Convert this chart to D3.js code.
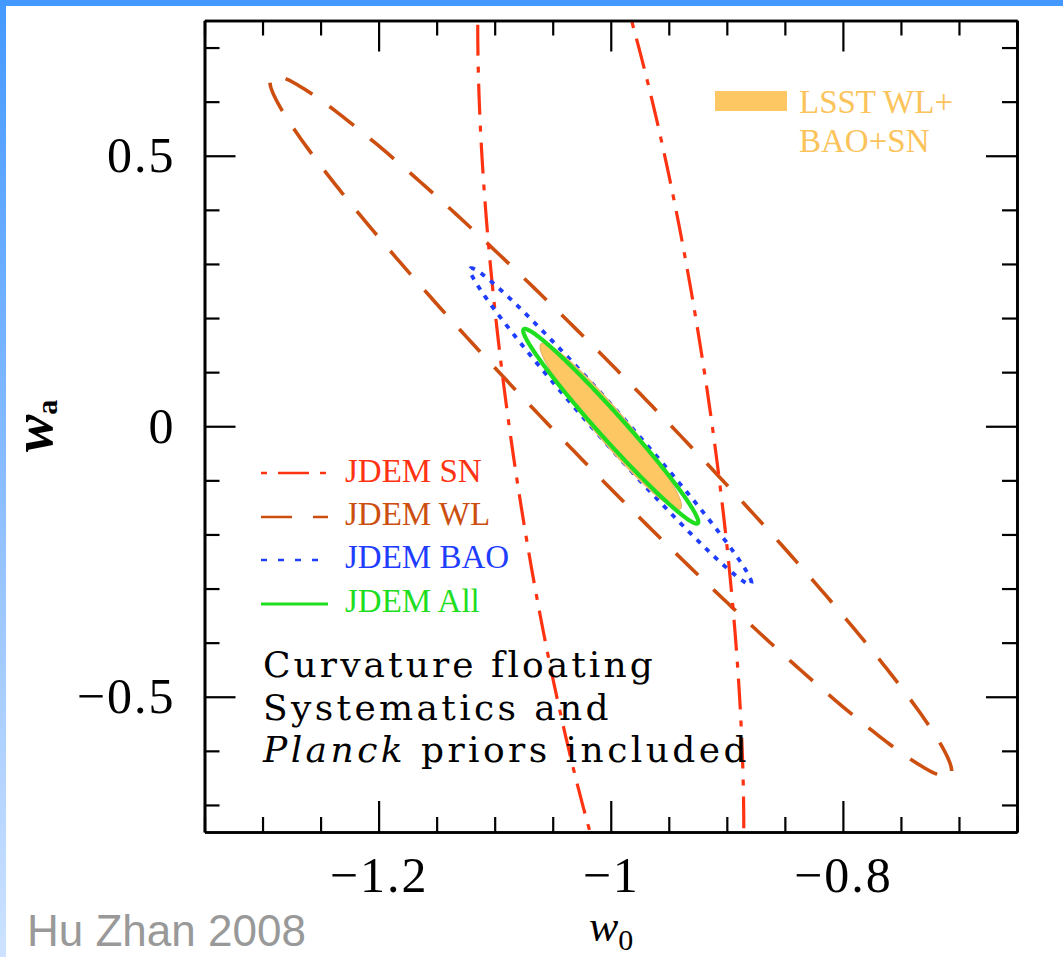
<!DOCTYPE html>
<html>
<head>
<meta charset="utf-8">
<script src="https://cdn.jsdelivr.net/npm/d3@7"></script>
<style>
  html, body { margin: 0; padding: 0; background: #fff; }
  svg { display: block; }
</style>
</head>
<body>
<svg id="chart" width="1063" height="957"></svg>
<script>
// Forecast 1-sigma contours for the dark-energy equation of state (w0, wa).
// Each contour is an error ellipse: centre, half-extent along each axis, correlation.
const contourNames = ["JDEM WL", "JDEM SN", "JDEM BAO", "LSST WL+BAO+SN", "JDEM All"];
const centerW0 = [-1.0, -1.0, -1.0, -1.0, -1.0];
const centerWa = [0.0, 0.0, 0.0, 0.0, 0.0];
const extentW0 = [0.2937, 0.1146, 0.1213, 0.0609, 0.0754];
const extentWa = [0.6476, 1.148, 0.2924, 0.1534, 0.180];
const correlation = [-0.984, -0.646, -0.990, -0.959, -0.981];

// Axis ranges and ticks
const w0Domain = [-1.35, -0.65];
const waDomain = [-0.75, 0.75];
const w0Major = [-1.2, -1.0, -0.8];
const waMajor = [-0.5, 0, 0.5];
const w0Minor = d3.range(-1.35, -0.649, 0.05).map(v => +v.toFixed(2)).filter(v => !w0Major.some(m => Math.abs(m - v) < 1e-9));
const waMinor = d3.range(-0.7, 0.701, 0.1).map(v => +v.toFixed(2)).filter(v => !waMajor.some(m => Math.abs(m - v) < 1e-9));

// Legend entries
const legendLabels = ["JDEM SN", "JDEM WL", "JDEM BAO", "JDEM All"];
const noteLines = ["Curvature floating", "Systematics and", "priors included"];

// ---- styling ----
const style = {
  "JDEM WL":  { stroke: "#cc4f10", width: 3.6, dash: "31,21", fill: "none" },
  "JDEM SN":  { stroke: "#ff3311", width: 3.2, dash: "31,11,6,11", fill: "none" },
  "JDEM BAO": { stroke: "#1f3dff", width: 3.8, dash: "5,7", fill: "none" },
  "LSST WL+BAO+SN": { stroke: "#e6b56a", width: 1.2, dash: null, fill: "#fdc863" },
  "JDEM All": { stroke: "#1fdd1f", width: 4.2, dash: null, fill: "none" }
};

const svg = d3.select("#chart");
const W = 1063, H = 957;
const plot = { left: 204.5, right: 1017, top: 20.5, bottom: 832 };

const x = d3.scaleLinear().domain(w0Domain).range([plot.left, plot.right]);
const y = d3.scaleLinear().domain(waDomain).range([plot.bottom, plot.top]);

// ---- slide frame: blue bar on top, fading bar on the left ----
const defs = svg.append("defs");
const grad = defs.append("linearGradient").attr("id", "sideFade")
  .attr("x1", 0).attr("y1", 0).attr("x2", 0).attr("y2", 1);
grad.append("stop").attr("offset", 0).attr("stop-color", "#4499ff");
grad.append("stop").attr("offset", 0.5).attr("stop-color", "#8abdff");
grad.append("stop").attr("offset", 1).attr("stop-color", "#cde2ff");
svg.append("rect").attr("x", 0).attr("y", 0).attr("width", 6).attr("height", H).attr("fill", "url(#sideFade)");
svg.append("rect").attr("x", 0).attr("y", 0).attr("width", W).attr("height", 6).attr("fill", "#4499ff");

defs.append("clipPath").attr("id", "plotClip").append("rect")
  .attr("x", plot.left).attr("y", plot.top)
  .attr("width", plot.right - plot.left).attr("height", plot.bottom - plot.top);

// ---- contours ----
function ellipse(i) {
  const s = Math.sqrt(1 - correlation[i] * correlation[i]);
  return d3.range(0, 360, 1).map(deg => {
    const t = deg * Math.PI / 180;
    return [centerW0[i] + extentW0[i] * Math.cos(t),
            centerWa[i] + extentWa[i] * (correlation[i] * Math.cos(t) + s * Math.sin(t))];
  });
}
const path = d3.line().x(d => x(d[0])).y(d => y(d[1])).curve(d3.curveLinearClosed);

const contours = svg.append("g").attr("clip-path", "url(#plotClip)");
contourNames.forEach((name, i) => {
  const st = style[name];
  contours.append("path")
    .attr("d", path(ellipse(i)))
    .attr("fill", st.fill)
    .attr("stroke", st.stroke)
    .attr("stroke-width", st.width)
    .attr("stroke-dasharray", st.dash)
    .attr("stroke-linejoin", "round");
});

// ---- axes (ticks point inward on all four sides) ----
const fmt = d3.format("~g");
const serif = "'Liberation Serif', 'Times New Roman', serif";

function styleAxis(g) {
  g.selectAll("path.domain").attr("stroke", "#000").attr("stroke-width", 2.6);
  g.selectAll(".tick line").attr("stroke", "#000").attr("stroke-width", 2.2);
  g.selectAll("text").attr("font-family", serif).attr("font-size", 50).attr("fill", "#000");
}

svg.append("g").attr("transform", `translate(0,${plot.bottom})`)
  .call(d3.axisBottom(x).tickValues(w0Major).tickFormat(fmt).tickSize(-31).tickSizeOuter(0).tickPadding(24))
  .call(styleAxis);
svg.append("g").attr("transform", `translate(0,${plot.bottom})`)
  .call(d3.axisBottom(x).tickValues(w0Minor).tickFormat("").tickSize(-15).tickSizeOuter(0))
  .call(styleAxis);
svg.append("g").attr("transform", `translate(0,${plot.top})`)
  .call(d3.axisTop(x).tickValues(w0Major).tickFormat("").tickSize(-31).tickSizeOuter(0))
  .call(styleAxis);
svg.append("g").attr("transform", `translate(0,${plot.top})`)
  .call(d3.axisTop(x).tickValues(w0Minor).tickFormat("").tickSize(-15).tickSizeOuter(0))
  .call(styleAxis);

svg.append("g").attr("transform", `translate(${plot.left},0)`)
  .call(d3.axisLeft(y).tickValues(waMajor).tickFormat(fmt).tickSize(-31).tickSizeOuter(0).tickPadding(29))
  .call(styleAxis);
svg.append("g").attr("transform", `translate(${plot.left},0)`)
  .call(d3.axisLeft(y).tickValues(waMinor).tickFormat("").tickSize(-15).tickSizeOuter(0))
  .call(styleAxis);
svg.append("g").attr("transform", `translate(${plot.right},0)`)
  .call(d3.axisRight(y).tickValues(waMajor).tickFormat("").tickSize(-31).tickSizeOuter(0))
  .call(styleAxis);
svg.append("g").attr("transform", `translate(${plot.right},0)`)
  .call(d3.axisRight(y).tickValues(waMinor).tickFormat("").tickSize(-15).tickSizeOuter(0))
  .call(styleAxis);

svg.selectAll("g.tick text").attr("letter-spacing", 2);

// ---- axis titles ----
const xTitle = svg.append("text").attr("x", 589).attr("y", 941)
  .attr("font-family", serif).attr("fill", "#000");
xTitle.append("tspan").attr("font-style", "italic").attr("font-size", 44).text("w");
xTitle.append("tspan").attr("font-size", 30).attr("dy", 9).text("0");

const yTitle = svg.append("text")
  .attr("transform", "translate(52,452) rotate(-90)")
  .attr("font-family", serif).attr("fill", "#000");
yTitle.append("tspan").attr("font-style", "italic").attr("font-weight", "bold").attr("font-size", 56).text("w");
yTitle.append("tspan").attr("font-size", 30).attr("font-weight", "bold").attr("dy", 5).text("a");

// ---- legend: line samples ----
const legendY = [473, 517, 560, 604];
const legendBase = [481.7, 525, 568, 611.7];
const legendDash = { "JDEM SN": "6,11,31,11", "JDEM WL": "31,21", "JDEM BAO": "6,11", "JDEM All": null };
const legendColor = { "JDEM SN": "#ff3311", "JDEM WL": "#cc4f10", "JDEM BAO": "#1f3dff", "JDEM All": "#1fdd1f" };
legendLabels.forEach((lab, i) => {
  svg.append("line")
    .attr("x1", 261).attr("x2", 328).attr("y1", legendY[i]).attr("y2", legendY[i])
    .attr("stroke", legendColor[lab]).attr("stroke-width", lab === "JDEM All" ? 3 : 2.6)
    .attr("stroke-dasharray", legendDash[lab]);
  svg.append("text").attr("x", 345).attr("y", legendBase[i])
    .attr("font-family", serif).attr("font-size", 33).attr("fill", legendColor[lab])
    .text(lab);
});

// LSST swatch
svg.append("rect").attr("x", 715).attr("y", 91).attr("width", 72).attr("height", 20)
  .attr("fill", style["LSST WL+BAO+SN"].fill);
svg.append("text").attr("x", 799).attr("y", 113)
  .attr("font-family", serif).attr("font-size", 33).attr("fill", "#fbc35a").text("LSST WL+");
svg.append("text").attr("x", 799).attr("y", 152)
  .attr("font-family", serif).attr("font-size", 33).attr("fill", "#fbc35a").text("BAO+SN");

// ---- note ----
function fitWidth(sel, target) {
  const n = sel.text().length;
  const len = sel.node().getComputedTextLength();
  sel.attr("letter-spacing", ((target - len) / n).toFixed(2));
}
const noteFont = "'DejaVu Serif', serif";
const n1 = svg.append("text").attr("x", 263).attr("y", 677)
  .attr("font-family", noteFont).attr("font-size", 36).attr("fill", "#000").text(noteLines[0]);
fitWidth(n1, 392);
const n2 = svg.append("text").attr("x", 263).attr("y", 720)
  .attr("font-family", noteFont).attr("font-size", 36).attr("fill", "#000").text(noteLines[1]);
fitWidth(n2, 349);
const n3 = svg.append("text").attr("x", 263).attr("y", 762)
  .attr("font-family", noteFont).attr("font-size", 36).attr("fill", "#000");
n3.append("tspan").attr("font-style", "italic").text("Planck");
n3.append("tspan").text(" " + noteLines[2]);
fitWidth(n3, 487);

// ---- credit ----
svg.append("text").attr("x", 27).attr("y", 946)
  .attr("font-family", "'Liberation Sans', Arial, sans-serif").attr("font-size", 44)
  .attr("fill", "#999999").text("Hu Zhan 2008");
</script>
</body>
</html>
